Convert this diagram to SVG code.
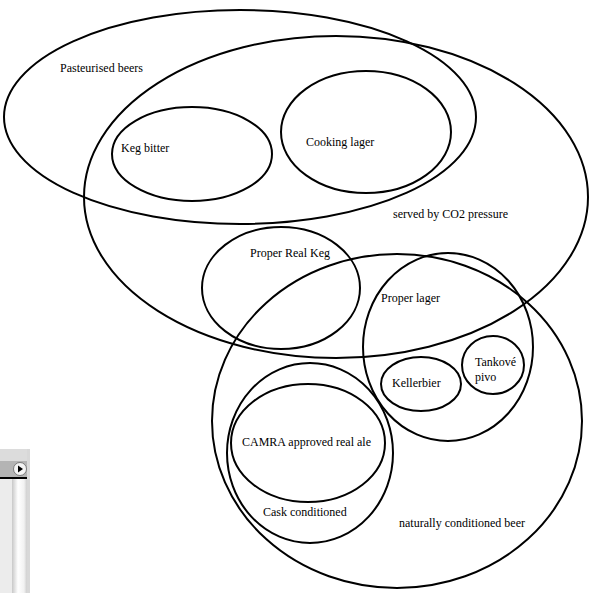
<svg xmlns="http://www.w3.org/2000/svg" width="598" height="593" viewBox="0 0 598 593">
<style>
.set{fill:none;stroke:#000;stroke-width:2}
text{font-family:"Liberation Serif","Times New Roman",serif;font-size:12px;fill:#000}
</style>
<defs>
<linearGradient id="track" x1="0" x2="1" y1="0" y2="0">
<stop offset="0" stop-color="#c8c8c8"/><stop offset="0.4" stop-color="#ffffff"/><stop offset="0.8" stop-color="#f2f2f2"/><stop offset="1" stop-color="#cfcfcf"/>
</linearGradient>
</defs>
<rect width="598" height="593" fill="#fff"/>
<g id="window-fragment">
<rect x="0" y="449" width="27" height="144" fill="#ececec"/>
<rect x="0" y="449" width="27" height="12" fill="#dcdcdc"/>
<rect x="0" y="461" width="27" height="16" fill="#b4b4b4"/>
<rect x="0" y="477" width="27" height="2" fill="#000"/>
<rect x="12" y="479" width="15" height="114" fill="url(#track)"/>
<rect x="27" y="449" width="3" height="144" fill="#d8d8d8"/>
<circle cx="20" cy="469" r="6.5" fill="#f4f4f4" stroke="#666" stroke-width="0.8"/>
<path d="M18 465.5 L23 469 L18 472.5 Z" fill="#000"/>
</g>
<g id="pasteurised"><ellipse class="set" cx="240" cy="117" rx="236" ry="107"/><text x="60" y="72">Pasteurised beers</text></g>
<g id="co2"><ellipse class="set" cx="336" cy="197" rx="252" ry="161"/><text x="393" y="218">served by CO2 pressure</text></g>
<g id="keg-bitter"><ellipse class="set" cx="192" cy="154" rx="80" ry="47"/><text x="121" y="152">Keg bitter</text></g>
<g id="cooking-lager"><ellipse class="set" cx="366" cy="132" rx="85" ry="61"/><text x="306" y="146">Cooking lager</text></g>
<g id="proper-real-keg"><ellipse class="set" cx="281" cy="288" rx="79" ry="61"/><text x="250" y="257">Proper Real Keg</text></g>
<g id="natural"><ellipse class="set" cx="397" cy="421" rx="185" ry="167"/><text x="399" y="527">naturally conditioned beer</text></g>
<g id="proper-lager"><ellipse class="set" cx="448" cy="347" rx="85" ry="94"/><text x="381" y="302">Proper lager</text></g>
<g id="kellerbier"><ellipse class="set" cx="421" cy="384" rx="40" ry="27"/><text x="392" y="387">Kellerbier</text></g>
<g id="tankove"><ellipse class="set" cx="493" cy="365" rx="31" ry="29"/><text x="475" y="366">Tankové</text><text x="475" y="381">pivo</text></g>
<g id="cask"><ellipse class="set" cx="310" cy="453" rx="83" ry="90"/><text x="263" y="516">Cask conditioned</text></g>
<g id="camra"><ellipse class="set" cx="308" cy="443" rx="77" ry="59"/><text x="242" y="446">CAMRA approved real ale</text></g>
<g id="connectors"/>
</svg>
